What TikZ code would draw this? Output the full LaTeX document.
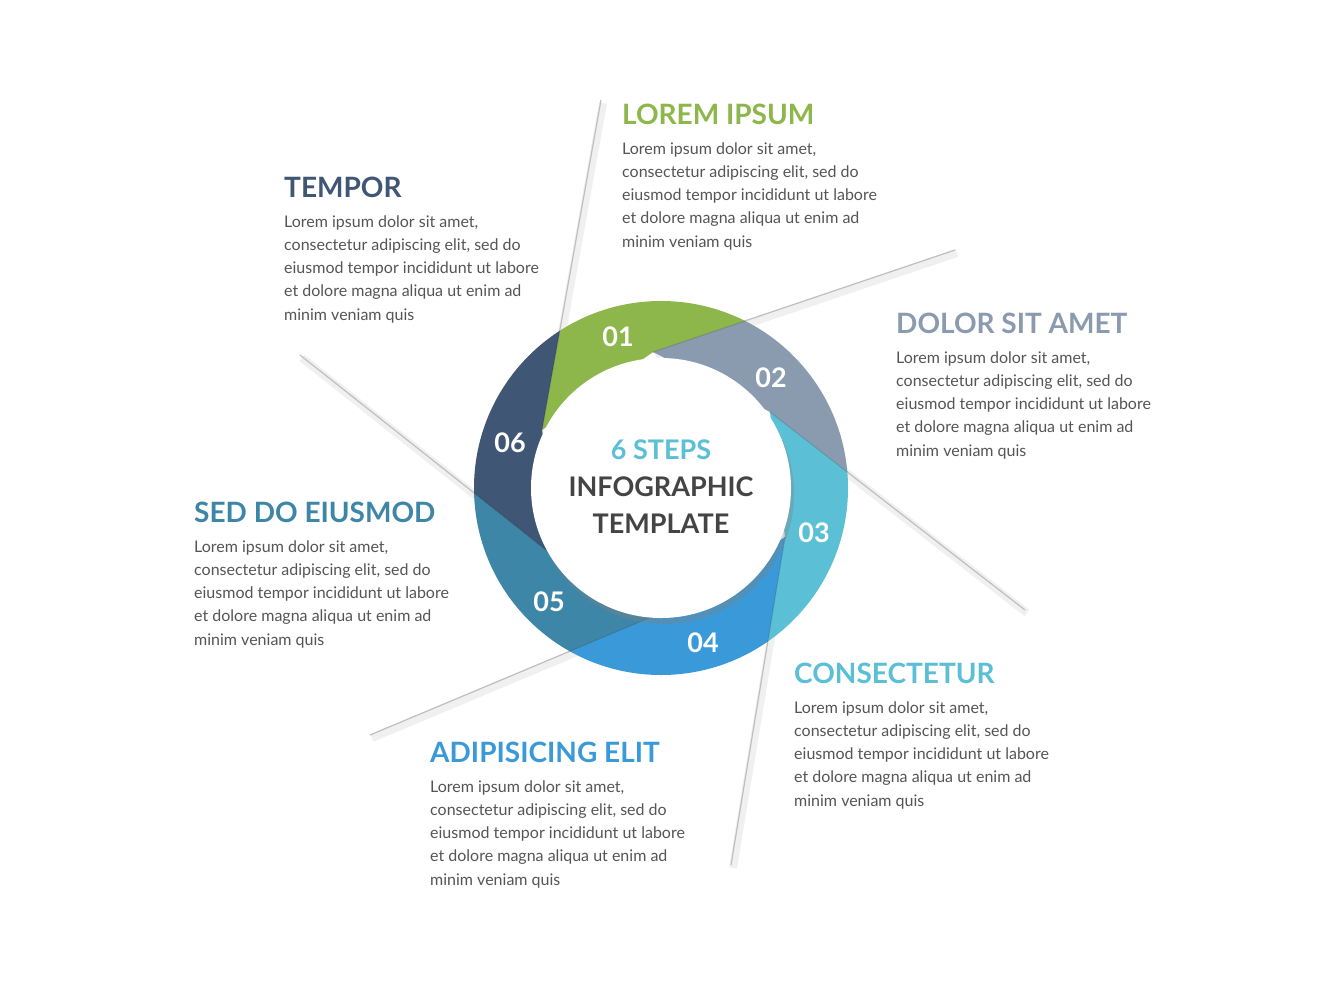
\documentclass[tikz,border=0pt]{standalone}
\usepackage{fontspec}
\setmainfont{Lato}
\usetikzlibrary{shadows}
\definecolor{cA}{HTML}{8DB64B}
\definecolor{cB}{HTML}{8A9BB0}
\definecolor{cC}{HTML}{5BBFD6}
\definecolor{cD}{HTML}{3A9AD9}
\definecolor{cE}{HTML}{3D86A8}
\definecolor{cF}{HTML}{3F5675}
\definecolor{txt}{HTML}{555555}
\definecolor{dark}{HTML}{444444}
\tikzset{
  head/.style={anchor=base west,inner sep=0pt,font=\fontsize{28}{30}\selectfont\bfseries},
  body/.style={anchor=base west,inner sep=0pt,text=txt,font=\fontsize{16}{20}\selectfont},
  num/.style={text=white,font=\fontsize{27}{30}\selectfont\bfseries},
  ctr/.style={font=\fontsize{27}{30}\selectfont\bfseries},
  shline/.style={draw=black!25,line width=1.2pt},
  shwide/.style={draw=black,opacity=0.06,line width=8pt},
}
\newcommand{\blurb}[4]{%
  \node[head,text=#4] (#1h) at (#2,#3) {\MakeUppercase{#1}};
  \foreach \t [count=\i] in {Lorem ipsum dolor sit amet,,consectetur adipiscing elit, sed do,eiusmod tempor incididunt ut labore,et dolore magna aliqua ut enim ad,minim veniam quis}{}%
}
\begin{document}
\begin{tikzpicture}[x=1pt,y=-1pt]
\useasboundingbox (0,0) rectangle (1321,980);
\fill[white] (0,0) rectangle (1321,980);
\coordinate (c) at (661,488);
\coordinate (P1) at (542,430); \coordinate (F1) at (601,100);
\coordinate (P2) at (653,352); \coordinate (F2) at (955,250);
\coordinate (P3) at (770,412); \coordinate (F3) at (1025,610);
\coordinate (P4) at (785,537); \coordinate (F4) at (731,865);
\coordinate (P5) at (680,605); \coordinate (F5) at (370,735);
\coordinate (P6) at (565,565); \coordinate (F6) at (300,355);
% shadow lines
\foreach \i in {1,...,6}{
  \draw[shwide] ([shift={(2,3)}]P\i) -- ([shift={(2,3)}]F\i);
  \draw[shline] (P\i) -- (F\i);
}
% ring segments
\begin{scope}
  \clip (c) circle (187);
  \fill[cA] (P1) -- (F1) -- (F2) -- (P2) -- cycle;
  \fill[cB] (P2) -- (F2) -- (F3) -- (P3) -- cycle;
  \fill[cC] (P3) -- (F3) -- (F4) -- (P4) -- cycle;
  \fill[cD] (P4) -- (F4) -- (F5) -- (P5) -- cycle;
  \fill[cE] (P5) -- (F5) -- (F6) -- (P6) -- cycle;
  \fill[cF] (P6) -- (F6) -- (F1) -- (P1) -- cycle;
  \foreach \i in {1,...,6}{\draw[draw=black,opacity=0.15,line width=1pt] (P\i) -- (F\i);}
\end{scope}
\fill[white,drop shadow={opacity=0.35,shadow xshift=3pt,shadow yshift=-6pt}] (c) circle (130);
\node[num] (n1) at (618,337) {01};
\node[num] (n2) at (771,378) {02};
\node[num] (n3) at (814,533) {03};
\node[num] (n4) at (703,643) {04};
\node[num] (n5) at (549,602) {05};
\node[num] (n6) at (510,443) {06};
\node[ctr,text=cC] (t1) at (661,450) {6 STEPS};
\node[ctr,text=dark] (t2) at (661,487) {INFOGRAPHIC};
\node[ctr,text=dark] (t3) at (661,524) {TEMPLATE};
% text blocks
\foreach \nm/\x/\y/\col/\lab in {a/622/124/cA/LOREM IPSUM, b/284/197/cF/TEMPOR, c/896/333/cB/DOLOR SIT AMET, d/194/522/cE/SED DO EIUSMOD, e/794/683/cC/CONSECTETUR, f/430/762/cD/ADIPISICING ELIT}{
  \node[head,text=\col] (h\nm) at (\x,\y) {\lab};
  \node[body] (l1\nm) at (\x,\y+30) {Lorem ipsum dolor sit amet,};
  \node[body] (l2\nm) at (\x,\y+53.3) {consectetur adipiscing elit, sed do};
  \node[body] (l3\nm) at (\x,\y+76.6) {eiusmod tempor incididunt ut labore};
  \node[body] (l4\nm) at (\x,\y+99.9) {et dolore magna aliqua ut enim ad};
  \node[body] (l5\nm) at (\x,\y+123.2) {minim veniam quis};
}
\end{tikzpicture}
\end{document}
